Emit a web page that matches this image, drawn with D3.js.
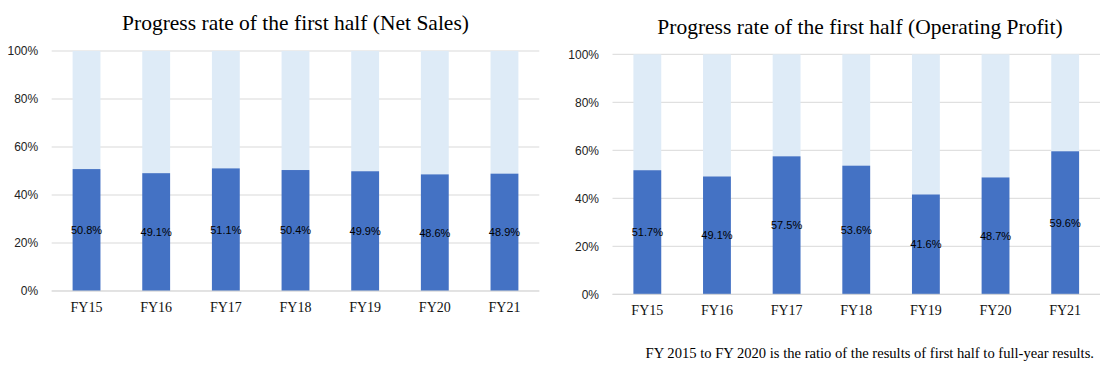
<!DOCTYPE html>
<html>
<head>
<meta charset="utf-8">
<script src="https://cdn.jsdelivr.net/npm/d3@7"></script>
<style>
  html, body { margin: 0; padding: 0; background: #fff; }
  svg { display: block; }
</style>
</head>
<body>
<svg id="chart" width="1109" height="369"></svg>
<script>
const categories = ["FY15", "FY16", "FY17", "FY18", "FY19", "FY20", "FY21"];
const netSales = [50.8, 49.1, 51.1, 50.4, 49.9, 48.6, 48.9];
const operatingProfit = [51.7, 49.1, 57.5, 53.6, 41.6, 48.7, 59.6];
const yTicks = [0, 20, 40, 60, 80, 100];
const titleNetSales = "Progress rate of the first half (Net Sales)";
const titleOpProfit = "Progress rate of the first half (Operating Profit)";
const footnote = "FY 2015 to FY 2020 is the ratio of the results of first half to full-year results.";

const svg = d3.select("#chart");
const DARK = "#4472C4", LIGHT = "#DEEBF7", GRID = "#D9D9D9";
const SERIF = "'Liberation Serif', 'Times New Roman', serif";
const SANS = "'Liberation Sans', Arial, sans-serif";

function drawChart(values, title, box) {
  const g = svg.append("g");
  const x = d3.scaleBand().domain(categories).range([box.x0, box.x1]).paddingInner(0.6).paddingOuter(0.3);
  const y = d3.scaleLinear().domain([0, 100]).range([box.y0, box.y1]);

  g.selectAll("line.grid").data(yTicks).join("line")
    .attr("x1", box.x0).attr("x2", box.x1)
    .attr("y1", d => y(d)).attr("y2", d => y(d))
    .attr("stroke", GRID).attr("stroke-width", 1);

  g.selectAll("text.ytick").data(yTicks).join("text")
    .attr("x", box.x0 - 13.5).attr("y", d => y(d)).attr("dy", "0.35em")
    .attr("text-anchor", "end").attr("font-family", SANS).attr("font-size", 12)
    .attr("fill", "#222").text(d => d + "%");

  const data = categories.map((c, i) => ({ c, v: values[i] }));
  g.selectAll("rect.rest").data(data).join("rect")
    .attr("x", d => x(d.c)).attr("width", x.bandwidth())
    .attr("y", y(100)).attr("height", d => y(d.v) - y(100))
    .attr("fill", LIGHT);
  g.selectAll("rect.val").data(data).join("rect")
    .attr("x", d => x(d.c)).attr("width", x.bandwidth())
    .attr("y", d => y(d.v)).attr("height", d => y(0) - y(d.v))
    .attr("fill", DARK);
  g.append("line").attr("x1", box.x0).attr("x2", box.x1)
    .attr("y1", y(0)).attr("y2", y(0)).attr("stroke", GRID);

  g.selectAll("text.lbl").data(data).join("text")
    .attr("x", d => x(d.c) + x.bandwidth() / 2).attr("y", d => y(d.v / 2)).attr("dy", "0.35em")
    .attr("text-anchor", "middle").attr("font-family", SANS).attr("font-size", 11)
    .attr("fill", "#000").text(d => d.v.toFixed(1) + "%");

  g.selectAll("text.xl").data(categories).join("text")
    .attr("x", d => x(d) + x.bandwidth() / 2).attr("y", box.xLabelY)
    .attr("text-anchor", "middle").attr("font-family", SERIF).attr("font-size", 14)
    .attr("fill", "#111").text(d => d);

  g.append("text").attr("x", box.titleX).attr("y", box.titleY)
    .attr("text-anchor", "middle").attr("font-family", SERIF).attr("font-size", 21.5)
    .attr("fill", "#000").text(title);
}

drawChart(netSales, titleNetSales, { x0: 51.7, x1: 539.3, y0: 291, y1: 51, xLabelY: 311.5, titleX: 295.5, titleY: 30 });
drawChart(operatingProfit, titleOpProfit, { x0: 612.5, x1: 1100, y0: 294.3, y1: 54.3, xLabelY: 315, titleX: 860, titleY: 34 });

svg.append("text").attr("x", 1094).attr("y", 358.3)
  .attr("text-anchor", "end").attr("font-family", SERIF).attr("font-size", 14.6)
  .attr("fill", "#000").text(footnote);
</script>
</body>
</html>
